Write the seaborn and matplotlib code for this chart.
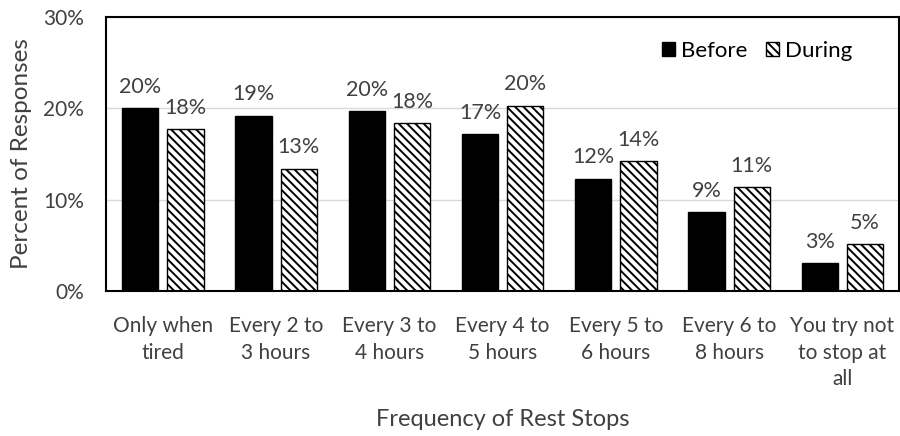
import pandas as pd
import numpy as np
import matplotlib
matplotlib.use("Agg")
import matplotlib.pyplot as plt
from matplotlib.patches import Patch
from matplotlib.ticker import FixedLocator
import seaborn as sns

# Dane (procent odpowiedzi)
categories = ["Only when\ntired", "Every 2 to\n3 hours", "Every 3 to\n4 hours", "Every 4 to\n5 hours",
              "Every 5 to\n6 hours", "Every 6 to\n8 hours", "You try not\nto stop at\nall"]
before = [20.0, 19.2, 19.7, 17.2, 12.3, 8.65, 3.0]
during = [17.7, 13.4, 18.4, 20.3, 14.2, 11.4, 5.1]
series = ["Before", "During"]
y_ticks = [0, 10, 20, 30]

df = pd.DataFrame({
    "category": categories * 2,
    "value": before + during,
    "period": [series[0]] * len(before) + [series[1]] * len(during),
})

sns.set_style("white")
plt.rcParams["font.family"] = ["Lato", "DejaVu Sans"]
plt.rcParams["hatch.linewidth"] = 1.4
text_color = "#404040"
hatch = "\\" * 4

fig = plt.figure(figsize=(9, 4.36), dpi=100)
ax = fig.add_axes([0.118, 0.333, 0.881, 0.628])

sns.barplot(data=df, x="category", y="value", hue="period", order=categories,
            hue_order=series, palette=["black", "white"], width=0.8, gap=0.2,
            edgecolor="black", linewidth=1.0, legend=False, ax=ax)

# Kreskowanie dla serii "During"
for bar in ax.containers[1]:
    bar.set_hatch(hatch)

for cont, vals in zip(ax.containers, [before, during]):
    ax.bar_label(cont, labels=[f"{v:.0f}%" for v in vals], padding=8,
                 fontsize=15.5, color=text_color)

ax.set_ylim(0, 30)
ax.set_xlim(-0.5, len(categories) - 0.5)
ax.set_yticks(y_ticks)
ax.set_yticklabels([f"{t}%" for t in y_ticks])
ax.yaxis.grid(True, color="#d9d9d9", linewidth=1.0)
ax.set_axisbelow(True)
ax.tick_params(axis="y", length=0, pad=16, labelsize=15, labelcolor=text_color)
ax.tick_params(axis="x", length=0, pad=18, labelsize=15, labelcolor=text_color)
for lab in ax.get_xticklabels():
    lab.set_linespacing(1.42)
ax.xaxis.set_minor_locator(FixedLocator(np.arange(0.5, len(categories) - 1, 1)))
ax.tick_params(axis="x", which="minor", direction="in", length=5, width=1.3, color="black")

for side in ax.spines.values():
    side.set_visible(True)
    side.set_color("black")
    side.set_linewidth(1.5)

ax.set_xlabel("Frequency of Rest Stops", fontsize=17, color=text_color, labelpad=14)
ax.set_ylabel("Percent of Responses", fontsize=17.5, color=text_color, labelpad=8)

handles = [Patch(facecolor="black", edgecolor="black"),
           Patch(facecolor="white", edgecolor="black", hatch=hatch)]
ax.legend(handles, series, loc="center right", bbox_to_anchor=(0.952, 0.876), ncol=2,
          frameon=False, fontsize=16, handlelength=0.6, handleheight=0.6,
          handletextpad=0.25, columnspacing=0.85, borderaxespad=0, labelcolor="black")

fig.savefig("out.png", dpi=100)
